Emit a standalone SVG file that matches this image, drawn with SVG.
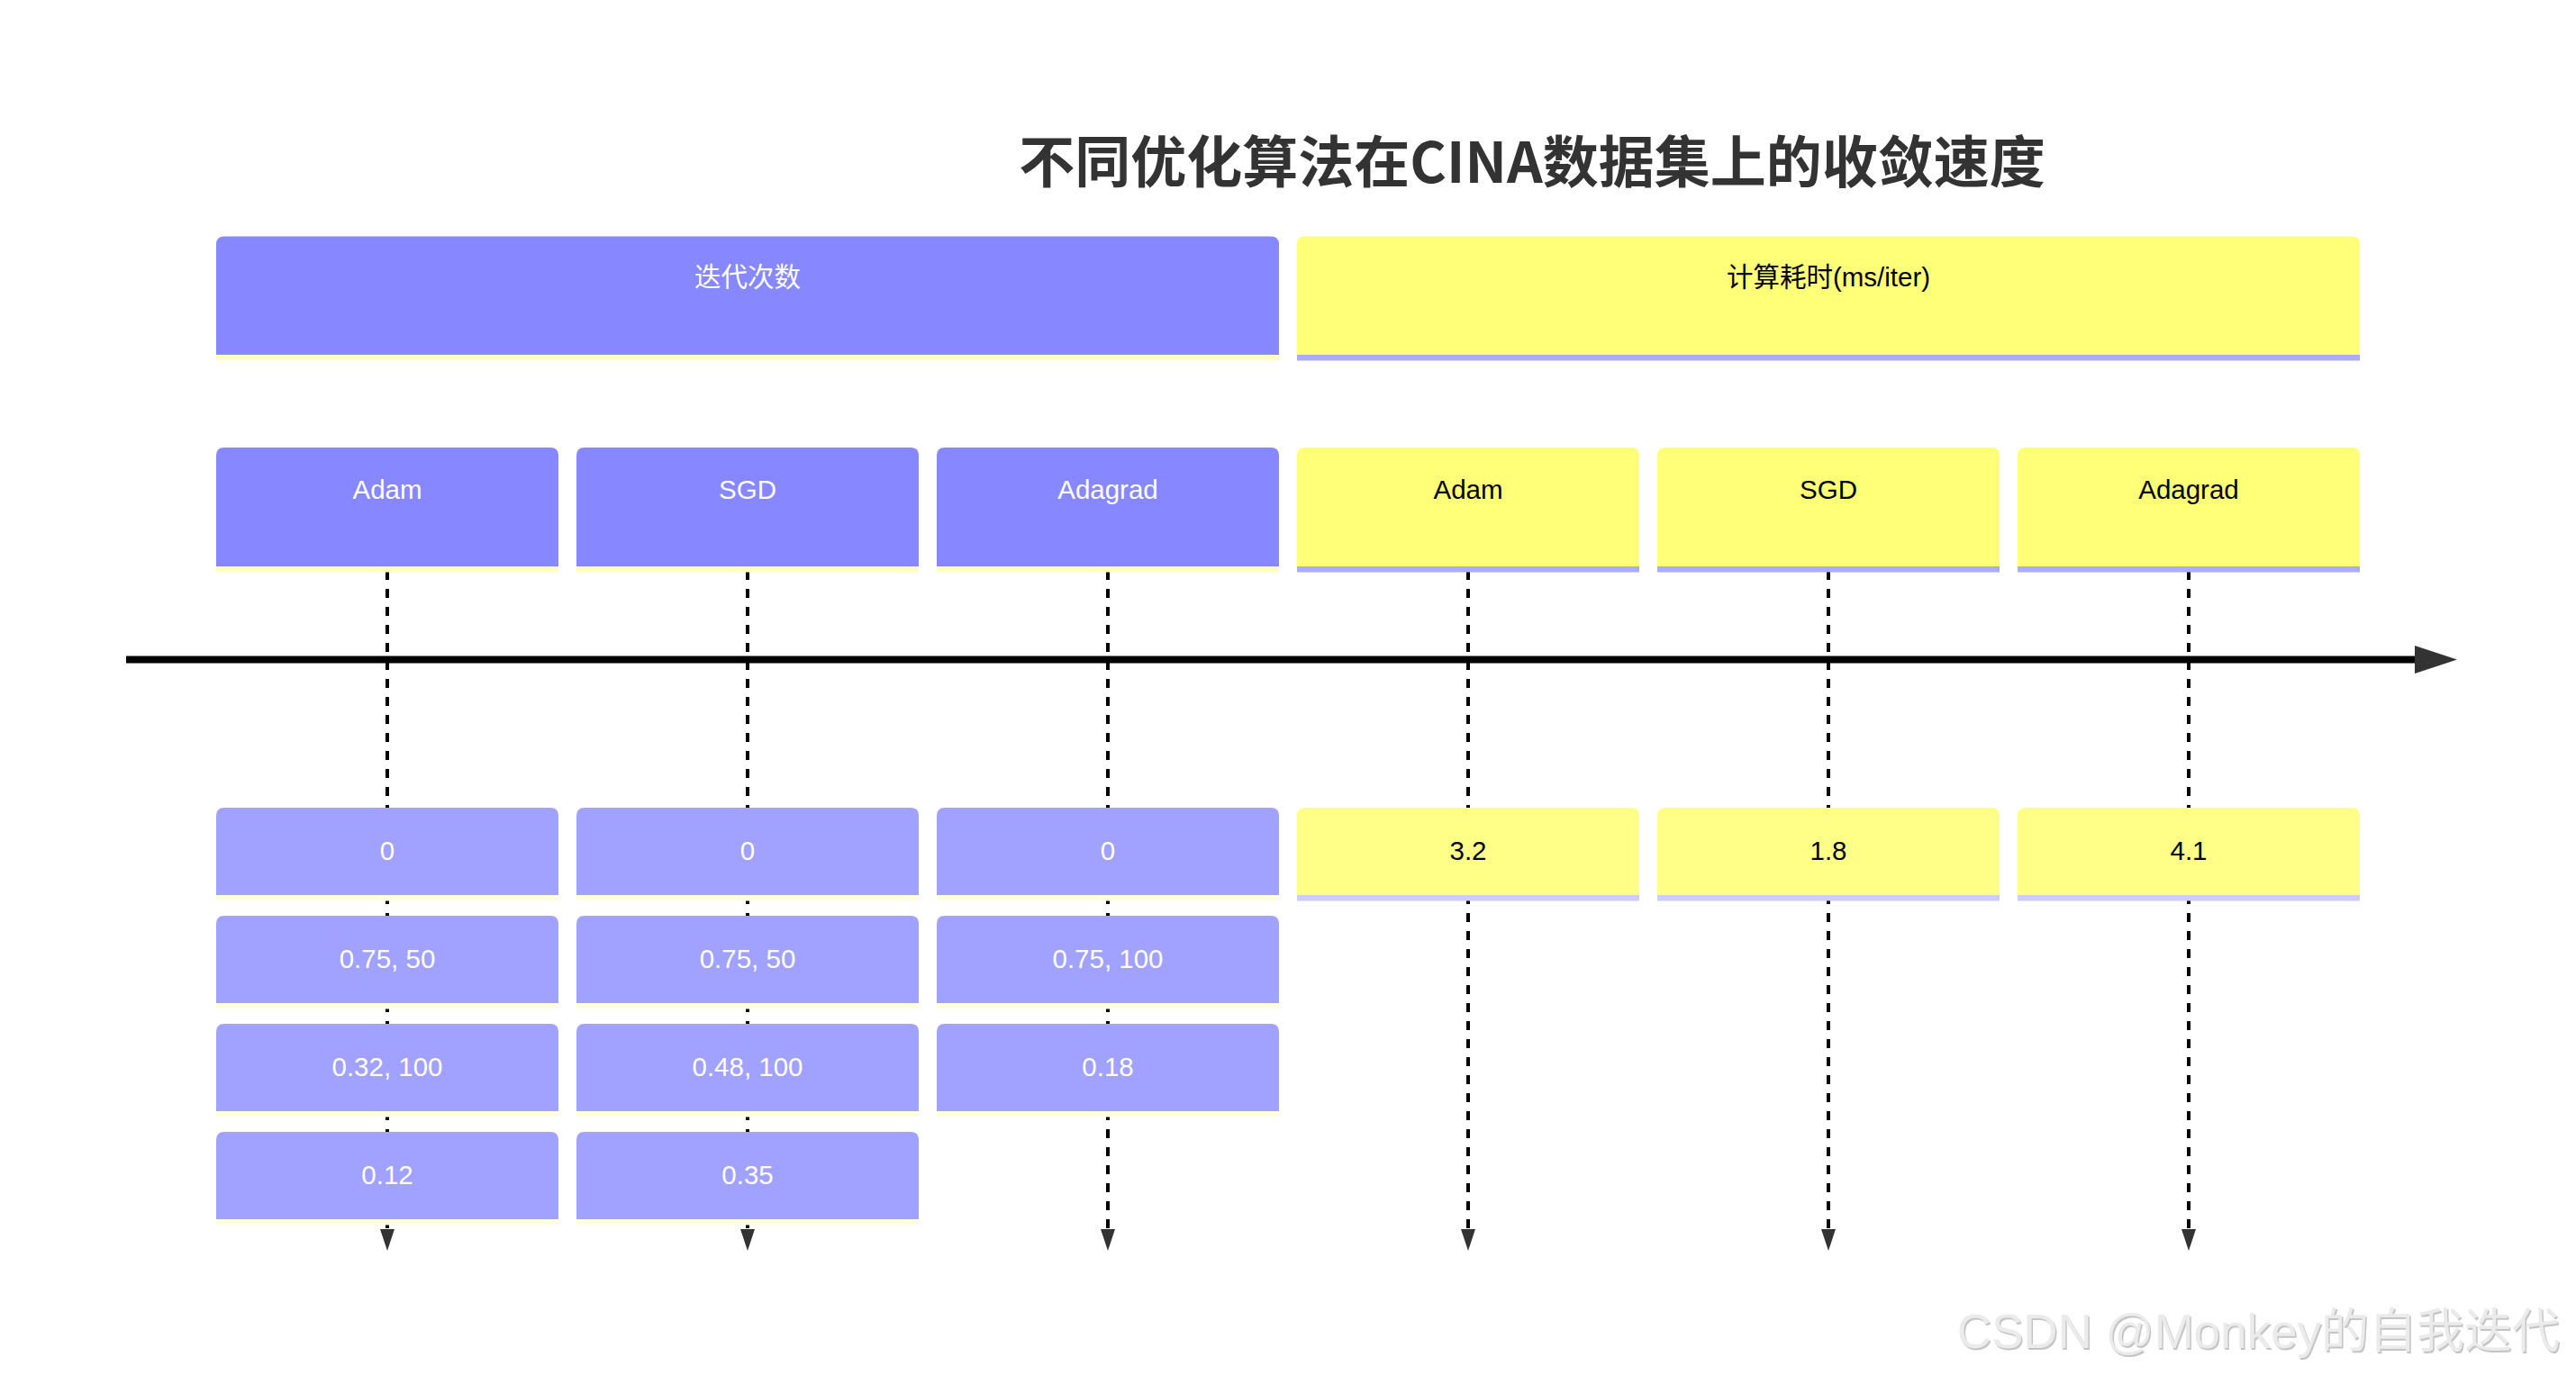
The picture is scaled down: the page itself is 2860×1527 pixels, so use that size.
<svg xmlns="http://www.w3.org/2000/svg" width="2860" height="1527" viewBox="0 0 2860 1527">
<style>
.t{font-family:"Liberation Sans","Noto Sans CJK SC",sans-serif;font-size:29.5px;text-anchor:middle}
.w{fill:#ffffff}
.k{fill:#000000}
.ph{fill:#8787ff}
.pe{fill:#a1a1ff}
.yh{fill:#ffff78}
.ye{fill:#ffff88}
.sph{fill:#ffffc2}
.spe{fill:#ffffe0}
.syh{fill:#aaaaff}
.sye{fill:#ccccff}
.dash{stroke:#000;stroke-width:4;stroke-dasharray:10 10;fill:none}
</style>
<defs>
<marker id="ah" markerUnits="userSpaceOnUse" markerWidth="24" markerHeight="16" refX="0" refY="8" orient="auto"><path d="M0,0 L24,8 L0,16 Z" fill="#333"/></marker>
<marker id="axh" markerUnits="userSpaceOnUse" markerWidth="47" markerHeight="31" refX="0" refY="15.5" orient="auto"><path d="M0,0 L47,15.5 L0,31 Z" fill="#333"/></marker>
</defs>
<rect width="2860" height="1527" fill="#ffffff"/>
<text x="1701" y="203" font-family="Noto Sans CJK SC,sans-serif" font-weight="bold" font-size="62" fill="#333333" text-anchor="middle">不同优化算法在CINA数据集上的收敛速度</text>

<g id="connectors">
<line class="dash" x1="430" y1="634" x2="430" y2="1365" marker-end="url(#ah)"/>
<line class="dash" x1="830" y1="634" x2="830" y2="1365" marker-end="url(#ah)"/>
<line class="dash" x1="1230" y1="634" x2="1230" y2="1365" marker-end="url(#ah)"/>
<line class="dash" x1="1630" y1="634" x2="1630" y2="1365" marker-end="url(#ah)"/>
<line class="dash" x1="2030" y1="634" x2="2030" y2="1365" marker-end="url(#ah)"/>
<line class="dash" x1="2430" y1="634" x2="2430" y2="1365" marker-end="url(#ah)"/>
<line x1="140" y1="732.5" x2="2681" y2="732.5" stroke="#000" stroke-width="8" marker-end="url(#axh)"/>
</g>

<g id="section-iter">
<path class="ph" d="M240,394 V271.5 Q240,262.5 249,262.5 H1411 Q1420,262.5 1420,271.5 V394 Z"/>
<rect class="sph" x="240" y="394" width="1180" height="6.5"/>
<text class="t w" x="830" y="318">迭代次数</text>
</g>
<g id="section-time">
<path class="yh" d="M1440,394 V271.5 Q1440,262.5 1449,262.5 H2611 Q2620,262.5 2620,271.5 V394 Z"/>
<rect class="syh" x="1440" y="394" width="1180" height="6.5"/>
<text class="t k" x="2030" y="318">计算耗时(ms/iter)</text>
</g>

<g id="task-iter-adam">
<path class="ph" d="M240,629 V506 Q240,497 249,497 H611 Q620,497 620,506 V629 Z"/>
<rect class="sph" x="240" y="629" width="380" height="6.5"/>
<text class="t w" x="430" y="554">Adam</text>
</g>
<g id="task-iter-sgd">
<path class="ph" d="M640,629 V506 Q640,497 649,497 H1011 Q1020,497 1020,506 V629 Z"/>
<rect class="sph" x="640" y="629" width="380" height="6.5"/>
<text class="t w" x="830" y="554">SGD</text>
</g>
<g id="task-iter-adagrad">
<path class="ph" d="M1040,629 V506 Q1040,497 1049,497 H1411 Q1420,497 1420,506 V629 Z"/>
<rect class="sph" x="1040" y="629" width="380" height="6.5"/>
<text class="t w" x="1230" y="554">Adagrad</text>
</g>
<g id="task-time-adam">
<path class="yh" d="M1440,629 V506 Q1440,497 1449,497 H1811 Q1820,497 1820,506 V629 Z"/>
<rect class="syh" x="1440" y="629" width="380" height="6.5"/>
<text class="t k" x="1630" y="554">Adam</text>
</g>
<g id="task-time-sgd">
<path class="yh" d="M1840,629 V506 Q1840,497 1849,497 H2211 Q2220,497 2220,506 V629 Z"/>
<rect class="syh" x="1840" y="629" width="380" height="6.5"/>
<text class="t k" x="2030" y="554">SGD</text>
</g>
<g id="task-time-adagrad">
<path class="yh" d="M2240,629 V506 Q2240,497 2249,497 H2611 Q2620,497 2620,506 V629 Z"/>
<rect class="syh" x="2240" y="629" width="380" height="6.5"/>
<text class="t k" x="2430" y="554">Adagrad</text>
</g>

<g id="ev-adam-1"><path class="pe" d="M240,994 V906 Q240,897 249,897 H611 Q620,897 620,906 V994 Z"/><rect class="spe" x="240" y="994" width="380" height="6.5"/><text class="t w" x="430" y="955">0</text></g>
<g id="ev-adam-2"><path class="pe" d="M240,1114 V1026 Q240,1017 249,1017 H611 Q620,1017 620,1026 V1114 Z"/><rect class="spe" x="240" y="1114" width="380" height="6.5"/><text class="t w" x="430" y="1075">0.75, 50</text></g>
<g id="ev-adam-3"><path class="pe" d="M240,1234 V1146 Q240,1137 249,1137 H611 Q620,1137 620,1146 V1234 Z"/><rect class="spe" x="240" y="1234" width="380" height="6.5"/><text class="t w" x="430" y="1195">0.32, 100</text></g>
<g id="ev-adam-4"><path class="pe" d="M240,1354 V1266 Q240,1257 249,1257 H611 Q620,1257 620,1266 V1354 Z"/><rect class="spe" x="240" y="1354" width="380" height="6.5"/><text class="t w" x="430" y="1315">0.12</text></g>

<g id="ev-sgd-1"><path class="pe" d="M640,994 V906 Q640,897 649,897 H1011 Q1020,897 1020,906 V994 Z"/><rect class="spe" x="640" y="994" width="380" height="6.5"/><text class="t w" x="830" y="955">0</text></g>
<g id="ev-sgd-2"><path class="pe" d="M640,1114 V1026 Q640,1017 649,1017 H1011 Q1020,1017 1020,1026 V1114 Z"/><rect class="spe" x="640" y="1114" width="380" height="6.5"/><text class="t w" x="830" y="1075">0.75, 50</text></g>
<g id="ev-sgd-3"><path class="pe" d="M640,1234 V1146 Q640,1137 649,1137 H1011 Q1020,1137 1020,1146 V1234 Z"/><rect class="spe" x="640" y="1234" width="380" height="6.5"/><text class="t w" x="830" y="1195">0.48, 100</text></g>
<g id="ev-sgd-4"><path class="pe" d="M640,1354 V1266 Q640,1257 649,1257 H1011 Q1020,1257 1020,1266 V1354 Z"/><rect class="spe" x="640" y="1354" width="380" height="6.5"/><text class="t w" x="830" y="1315">0.35</text></g>

<g id="ev-adagrad-1"><path class="pe" d="M1040,994 V906 Q1040,897 1049,897 H1411 Q1420,897 1420,906 V994 Z"/><rect class="spe" x="1040" y="994" width="380" height="6.5"/><text class="t w" x="1230" y="955">0</text></g>
<g id="ev-adagrad-2"><path class="pe" d="M1040,1114 V1026 Q1040,1017 1049,1017 H1411 Q1420,1017 1420,1026 V1114 Z"/><rect class="spe" x="1040" y="1114" width="380" height="6.5"/><text class="t w" x="1230" y="1075">0.75, 100</text></g>
<g id="ev-adagrad-3"><path class="pe" d="M1040,1234 V1146 Q1040,1137 1049,1137 H1411 Q1420,1137 1420,1146 V1234 Z"/><rect class="spe" x="1040" y="1234" width="380" height="6.5"/><text class="t w" x="1230" y="1195">0.18</text></g>

<g id="ev-time-adam"><path class="ye" d="M1440,994 V906 Q1440,897 1449,897 H1811 Q1820,897 1820,906 V994 Z"/><rect class="sye" x="1440" y="994" width="380" height="6.5"/><text class="t k" x="1630" y="955">3.2</text></g>
<g id="ev-time-sgd"><path class="ye" d="M1840,994 V906 Q1840,897 1849,897 H2211 Q2220,897 2220,906 V994 Z"/><rect class="sye" x="1840" y="994" width="380" height="6.5"/><text class="t k" x="2030" y="955">1.8</text></g>
<g id="ev-time-adagrad"><path class="ye" d="M2240,994 V906 Q2240,897 2249,897 H2611 Q2620,897 2620,906 V994 Z"/><rect class="sye" x="2240" y="994" width="380" height="6.5"/><text class="t k" x="2430" y="955">4.1</text></g>

<g id="watermark" font-family="Liberation Sans,Noto Sans CJK SC,sans-serif" font-size="53" text-anchor="end">
<text x="2843.5" y="1498.5" fill="#c4c4c4">CSDN @Monkey的自我迭代</text>
<text x="2842" y="1497" fill="#ebebeb">CSDN @Monkey的自我迭代</text>
</g>
</svg>
